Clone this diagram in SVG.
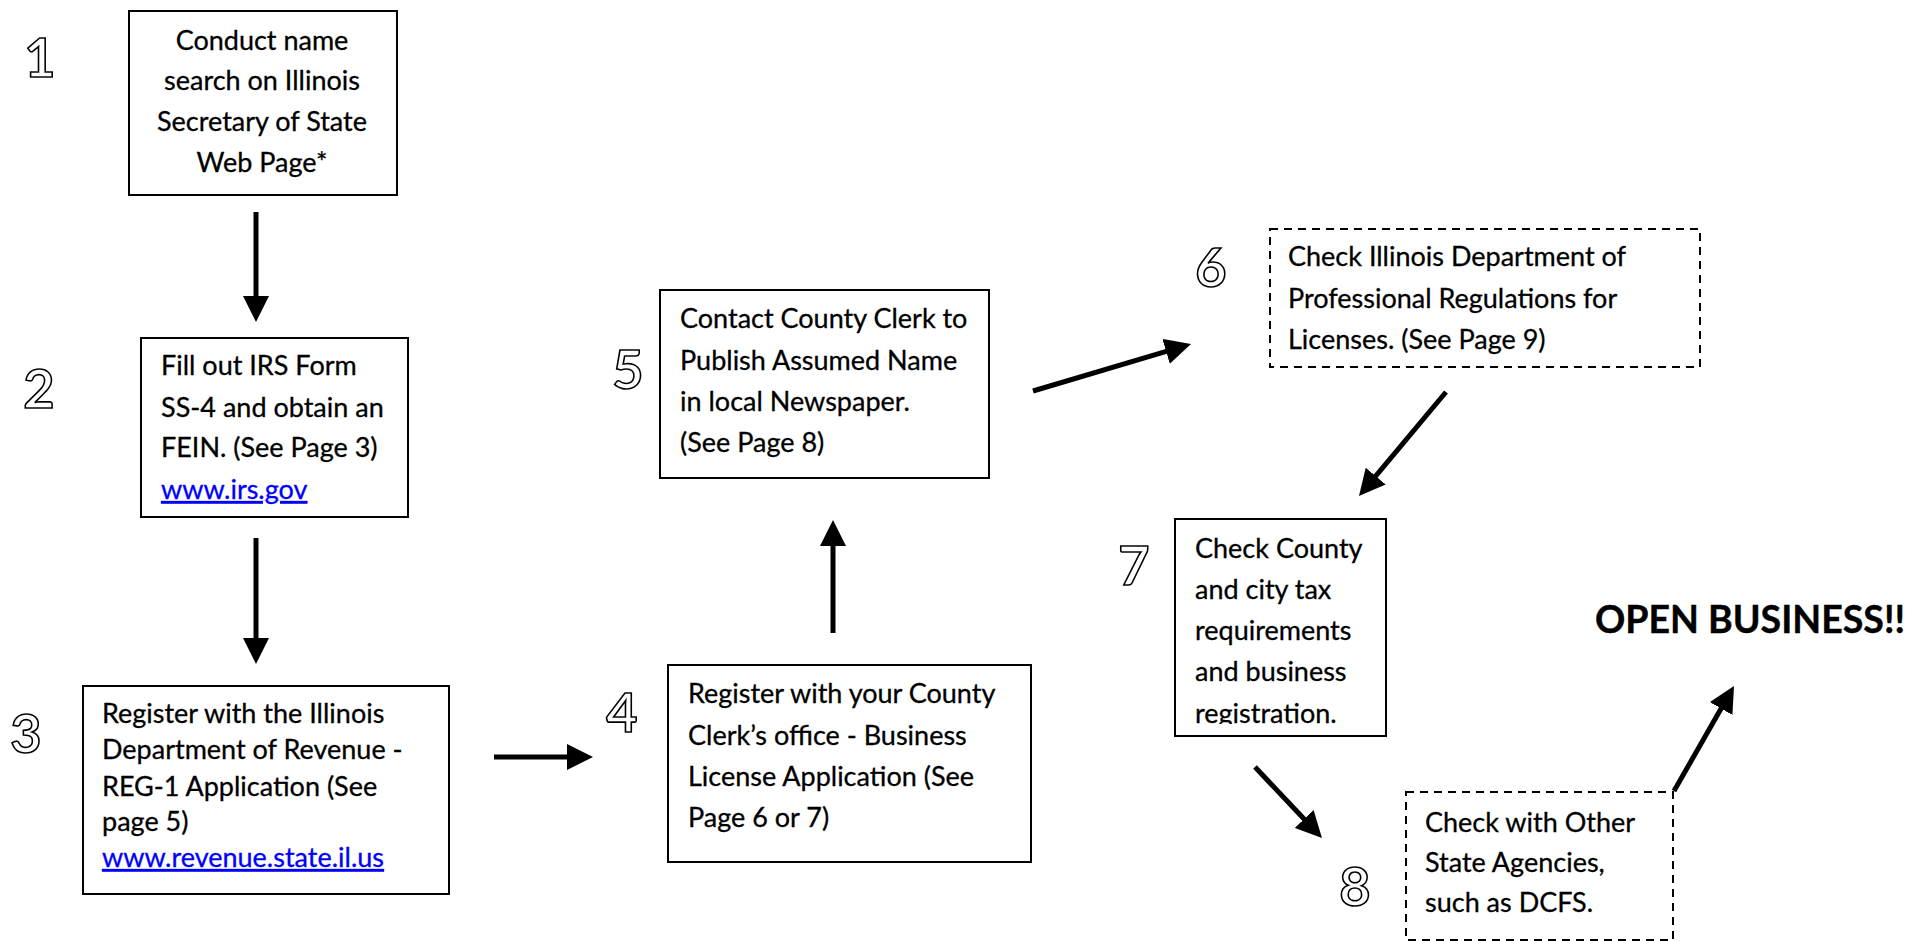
<svg xmlns="http://www.w3.org/2000/svg" width="1923" height="942" viewBox="0 0 1923 942">
<style>
.box{fill:#fff;stroke:#000;stroke-width:2}
.dash{fill:#fff;stroke:#000;stroke-width:2;stroke-dasharray:8 6}
.t{font-family:Lato,"Liberation Sans",sans-serif;font-size:27px;fill:#000;stroke:#000;stroke-width:0.3}
.c{text-anchor:middle}
.link{fill:#0000ff;stroke:#0000ff;text-decoration:underline}
.num{font-family:Lato,"Liberation Sans",sans-serif;font-size:54px;font-weight:bold;fill:#fff;stroke:#000;stroke-width:1.6;text-anchor:middle}
.arr{stroke:#000;stroke-width:5;fill:none;marker-end:url(#ah)}
.big{font-family:Lato,"Liberation Sans",sans-serif;font-size:37.5px;font-weight:bold;fill:#000;stroke:#000;stroke-width:0.4}
</style>
<defs>
<marker id="ah" markerUnits="userSpaceOnUse" viewBox="0 0 26 26" refX="2" refY="13" markerWidth="26" markerHeight="26" orient="auto">
<path d="M0,0 L26,13 L0,26 z" fill="#000"/>
</marker>
<clipPath id="clip7"><rect x="1175" y="519" width="211" height="205"/></clipPath>
</defs>
<rect width="1923" height="942" fill="#fff"/>
<g id="connectors">
<line class="arr" x1="256" y1="212" x2="256" y2="298"/>
<line class="arr" x1="256" y1="538" x2="256" y2="640"/>
<line class="arr" x1="494" y1="757" x2="569" y2="757"/>
<line class="arr" x1="833" y1="633" x2="833" y2="544"/>
<line class="arr" x1="1033" y1="391" x2="1168" y2="350.8"/>
<line class="arr" x1="1446" y1="392" x2="1374.4" y2="477.6"/>
<line class="arr" x1="1255" y1="767" x2="1305.5" y2="820.5"/>
<line class="arr" x1="1674" y1="791" x2="1722.1" y2="706.8"/>
</g>
<g id="step1">
<text class="num" x="40" y="77">1</text>
<rect class="box" x="129" y="11" width="268" height="184"/>
<text class="t c" x="262" y="50">Conduct name</text>
<text class="t c" x="262" y="90">search on Illinois</text>
<text class="t c" x="262" y="131">Secretary of State</text>
<text class="t c" x="262" y="172">Web Page*</text>
</g>
<g id="step2">
<text class="num" x="39" y="408">2</text>
<rect class="box" x="141" y="338" width="267" height="179"/>
<text class="t" x="161" y="375">Fill out IRS Form</text>
<text class="t" x="161" y="417">SS-4 and obtain an</text>
<text class="t" x="161" y="457">FEIN. (See Page 3)</text>
<text class="t link" x="161" y="499">www.irs.gov</text>
</g>
<g id="step3">
<text class="num" x="26" y="753">3</text>
<rect class="box" x="83" y="686" width="366" height="208"/>
<text class="t" x="102" y="723">Register with the Illinois</text>
<text class="t" x="102" y="759">Department of Revenue -</text>
<text class="t" x="102" y="796">REG-1 Application (See</text>
<text class="t" x="102" y="831">page 5)</text>
<text class="t link" x="102" y="867">www.revenue.state.il.us</text>
</g>
<g id="step4">
<text class="num" x="622" y="732">4</text>
<rect class="box" x="668" y="665" width="363" height="197"/>
<text class="t" x="688" y="703">Register with your County</text>
<text class="t" x="688" y="745">Clerk’s office - Business</text>
<text class="t" x="688" y="786">License Application (See</text>
<text class="t" x="688" y="827">Page 6 or 7)</text>
</g>
<g id="step5">
<text class="num" x="628" y="389">5</text>
<rect class="box" x="660" y="290" width="329" height="188"/>
<text class="t" x="680" y="328">Contact County Clerk to</text>
<text class="t" x="680" y="370">Publish Assumed Name</text>
<text class="t" x="680" y="411">in local Newspaper.</text>
<text class="t" x="680" y="452">(See Page 8)</text>
</g>
<g id="step6">
<text class="num" x="1211" y="287">6</text>
<rect class="dash" x="1270" y="229" width="430" height="138"/>
<text class="t" x="1288" y="266">Check Illinois Department of</text>
<text class="t" x="1288" y="308">Professional Regulations for</text>
<text class="t" x="1288" y="349">Licenses. (See Page 9)</text>
</g>
<g id="step7">
<text class="num" x="1134" y="585">7</text>
<rect class="box" x="1175" y="519" width="211" height="217"/>
<g clip-path="url(#clip7)">
<text class="t" x="1195" y="558">Check County</text>
<text class="t" x="1195" y="599">and city tax</text>
<text class="t" x="1195" y="640">requirements</text>
<text class="t" x="1195" y="681">and business</text>
<text class="t" x="1195" y="723">registration.</text>
</g>
</g>
<g id="step8">
<text class="num" x="1355" y="906">8</text>
<rect class="dash" x="1406" y="792" width="267" height="148"/>
<text class="t" x="1425" y="832">Check with Other</text>
<text class="t" x="1425" y="872">State Agencies,</text>
<text class="t" x="1425" y="912">such as DCFS.</text>
</g>
<g id="open">
<text class="big" x="1595" y="633">OPEN BUSINESS!!</text>
</g>
</svg>
